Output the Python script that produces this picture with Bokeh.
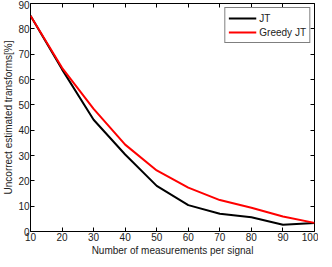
from bokeh.plotting import figure
from bokeh.models import Range1d, LinearAxis, FixedTicker, Legend, LegendItem, CustomLabelingPolicy
from bokeh.embed import file_html
from bokeh.resources import INLINE

measurements = [10, 20, 30, 40, 50, 60, 70, 80, 90, 100]
jt = [85.2, 64.0, 44.1, 30.4, 18.0, 10.4, 7.0, 5.6, 2.7, 3.4]
greedy_jt = [85.2, 64.6, 48.4, 34.3, 24.1, 17.3, 12.4, 9.4, 5.9, 3.4]
x_ticks = [10, 20, 30, 40, 50, 60, 70, 80, 90, 100]
y_ticks = [0, 10, 20, 30, 40, 50, 60, 70, 80, 90]

FONT = "Liberation Sans"

p = figure(frame_width=284, frame_height=228, output_backend="svg", toolbar_location=None,
           x_range=Range1d(10, 100), y_range=Range1d(0, 90),
           min_border_left=2, min_border_right=4, min_border_top=3, min_border_bottom=0)
p.grid.visible = False
p.outline_line_color = "black"
p.outline_line_width = 1
p.background_fill_color = "white"
p.border_fill_color = "white"

hide_all = "for (const i of Array.from(indices)) { indices.unset(i) }\nreturn indices"

def style(ax, labels=True):
    ax.axis_line_color = None
    ax.major_tick_in = 4
    ax.major_tick_out = 0
    ax.minor_tick_line_color = None
    ax.major_tick_line_color = "black"
    ax.major_label_text_font = FONT
    ax.major_label_text_font_size = "10px"
    ax.major_label_text_color = "#222222"
    ax.major_label_text_line_height = 1.0
    ax.axis_label_text_font = FONT
    ax.axis_label_text_font_size = "10px"
    ax.axis_label_text_font_style = "normal"
    ax.axis_label_text_color = "#222222"
    ax.axis_label_text_line_height = 1.0
    ax.axis_label_standoff = 1
    ax.major_label_standoff = 1
    if not labels:
        ax.major_label_policy = CustomLabelingPolicy(code=hide_all)
        ax.major_label_text_font_size = "0px"
        ax.major_label_standoff = 0
        ax.axis_label_standoff = 0

p.xaxis.ticker = FixedTicker(ticks=x_ticks)
p.yaxis.ticker = FixedTicker(ticks=y_ticks)
p.xaxis.axis_label = "Number of measurements per signal"
p.yaxis.axis_label = "Uncorrect estimated transforms[%]"
style(p.xaxis[0])
style(p.yaxis[0])

top = LinearAxis(ticker=FixedTicker(ticks=x_ticks))
right = LinearAxis(ticker=FixedTicker(ticks=y_ticks))
style(top, labels=False)
style(right, labels=False)
p.add_layout(top, "above")
p.add_layout(right, "right")

r1 = p.line(measurements, jt, line_color="black", line_width=2)
r2 = p.line(measurements, greedy_jt, line_color="#ff0000", line_width=2)

legend = Legend(items=[LegendItem(label="JT", renderers=[r1]),
                       LegendItem(label="Greedy JT", renderers=[r2])],
                location="top_right")
legend.border_line_color = "black"
legend.border_line_width = 1
legend.label_text_font = FONT
legend.label_text_font_size = "10px"
legend.label_text_color = "#222222"
legend.glyph_width = 28
legend.glyph_height = 14
legend.label_height = 14
legend.spacing = 0
legend.padding = 3
legend.margin = 4
legend.label_standoff = 3
legend.background_fill_alpha = 1
p.add_layout(legend)

open("out.html", "w").write(file_html(p, INLINE))
